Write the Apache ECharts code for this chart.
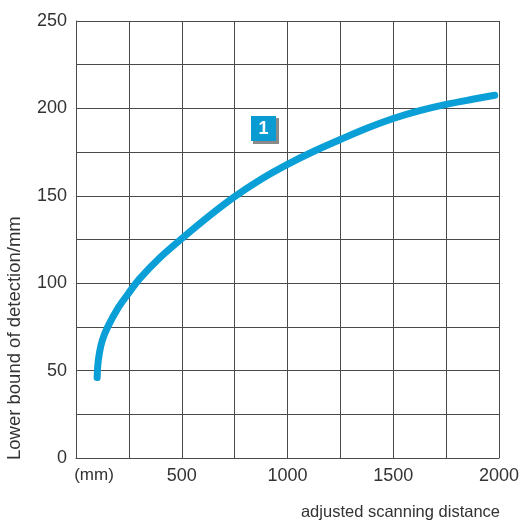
<!DOCTYPE html>
<html>
<head>
<meta charset="utf-8">
<script src="https://cdn.jsdelivr.net/npm/echarts@6/dist/echarts.min.js"></script>
<style>
  html, body { margin: 0; padding: 0; background: #fff; }
  #chart { width: 523px; height: 522px; }
</style>
</head>
<body>
<div id="chart"></div>
<script>
// curve: [scanning distance mm, lower bound mm]
var distance = [100, 103, 112, 125, 150, 200, 250, 300, 400, 500, 625, 750, 875, 1000, 1125, 1250, 1375, 1500, 1625, 1750, 1875, 1980];
var lowerBound = [46, 53, 61, 67.5, 75, 86, 94.5, 102.5, 115, 125.5, 138, 149.5, 159.5, 168, 175.5, 182.2, 188.6, 194.2, 198.7, 202.3, 205.2, 207.5];
var xLabels = {0: '(mm)', 500: '500', 1000: '1000', 1500: '1500', 2000: '2000'};
var yName = 'Lower bound of detection/mm';
var xName = 'adjusted scanning distance';
var curveTag = '1';

var chartDom = document.getElementById('chart');
var myChart = echarts.init(chartDom);

var points = [];
for (var i = 0; i < distance.length; i++) {
  points.push([distance[i], lowerBound[i]]);
}

var gridColor = '#4a4a4a';
var labelFont = 'Liberation Sans, Arial, sans-serif';

var option = {
  backgroundColor: '#fff',
  animation: false,
  grid: { left: 76, right: 24, top: 21, bottom: 64 },
  xAxis: {
    type: 'value',
    min: 0,
    max: 2000,
    interval: 250,
    axisLine: { show: true, lineStyle: { color: gridColor, width: 1 } },
    axisTick: { show: false },
    splitLine: { show: true, lineStyle: { color: gridColor, width: 1 } },
    axisLabel: {
      margin: 9,
      color: '#333',
      fontSize: 18,
      fontFamily: labelFont,
      showMinLabel: true,
      showMaxLabel: true,
      formatter: function (v) {
        if (v === 0) return '{mm|' + xLabels[0] + '}';
        return xLabels[v] || '';
      },
      rich: {
        mm: { fontSize: 17, color: '#333', fontFamily: labelFont, padding: [0, 0, 0, 36] }
      }
    }
  },
  yAxis: {
    type: 'value',
    min: 0,
    max: 250,
    interval: 25,
    axisLine: { show: true, lineStyle: { color: gridColor, width: 1 } },
    axisTick: { show: false },
    splitLine: { show: true, lineStyle: { color: gridColor, width: 1 } },
    axisLabel: {
      margin: 9,
      color: '#333',
      fontSize: 18,
      fontFamily: labelFont,
      formatter: function (v) {
        return v % 50 === 0 ? String(v) : '';
      }
    }
  },
  graphic: [
    {
      type: 'text',
      x: 15,
      y: 460,
      rotation: Math.PI / 2,
      style: {
        text: yName,
        fill: '#333',
        fontSize: 18.5,
        fontFamily: labelFont,
        align: 'left',
        verticalAlign: 'middle'
      }
    },
    {
      type: 'text',
      right: 23,
      top: 504,
      style: {
        text: xName,
        fill: '#333',
        fontSize: 16.5,
        fontFamily: labelFont
      }
    },
    {
      type: 'group',
      left: 251,
      top: 116,
      children: [
        { type: 'rect', shape: { x: 2, y: 2, width: 26, height: 26 }, style: { fill: '#8a8a8a' } },
        { type: 'rect', shape: { x: 0, y: 0, width: 25, height: 25 }, style: { fill: '#0a9bd3' } },
        {
          type: 'text',
          x: 12.5,
          y: 13,
          style: {
            text: curveTag,
            fill: '#fff',
            fontSize: 18,
            fontWeight: 'bold',
            fontFamily: labelFont,
            align: 'center',
            verticalAlign: 'middle'
          }
        }
      ]
    }
  ],
  series: [
    {
      type: 'line',
      data: points,
      smooth: 0.3,
      symbol: 'none',
      lineStyle: { color: '#0a9fd6', width: 7, cap: 'round' }
    }
  ]
};

option && myChart.setOption(option);
</script>
</body>
</html>
